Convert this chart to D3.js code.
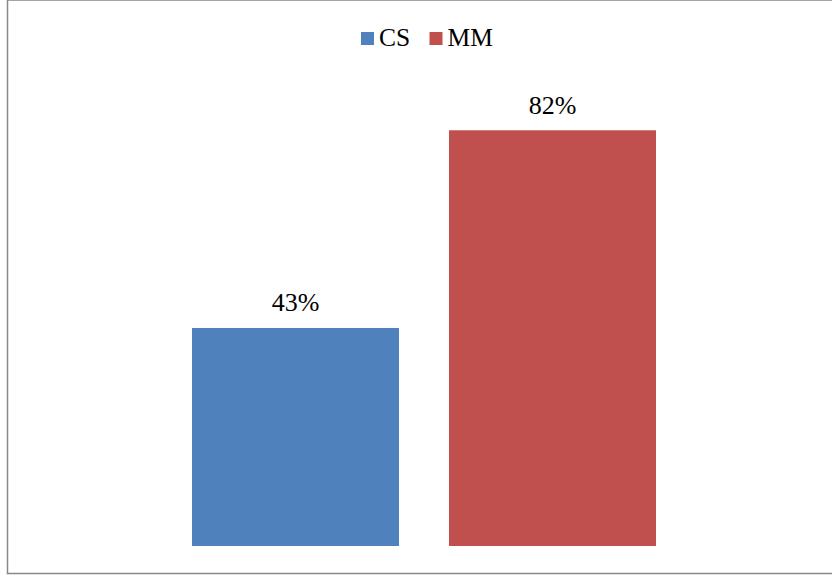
<!DOCTYPE html>
<html><head><meta charset="utf-8">
<script src="https://cdn.jsdelivr.net/npm/d3@7"></script>
<style>html,body{margin:0;padding:0;background:#fff;}svg{display:block;}</style>
</head><body>
<svg id="c" width="832" height="576"></svg>
<script>
const series = ["CS", "MM"];
const values = [0.43, 0.82];
const labels = ["43%", "82%"];
const colors = ["#4F81BD", "#C0504D"];

const svg = d3.select("#c");
const font = "'Liberation Serif','Times New Roman',serif";

svg.append("rect").attr("x", 7.5).attr("y", 0).attr("width", 830).attr("height", 573.5)
  .attr("fill", "#fff").attr("stroke", "#888").attr("stroke-width", 1.5);

const x = d3.scaleBand().domain(series).range([167, 681]).paddingInner(50/257).paddingOuter(25/257);
const y = d3.scaleLinear().domain([0, 1]).range([546, 39]);

const data = series.map((s, i) => ({s, v: values[i], l: labels[i], c: colors[i]}));

svg.selectAll("rect.bar").data(data).enter().append("rect").attr("class", "bar")
  .attr("x", d => x(d.s)).attr("width", x.bandwidth())
  .attr("y", d => y(d.v)).attr("height", d => y(0) - y(d.v))
  .attr("fill", d => d.c);

svg.selectAll("text.lbl").data(data).enter().append("text").attr("class", "lbl")
  .attr("x", d => x(d.s) + x.bandwidth()/2).attr("y", d => y(d.v) - 16.5)
  .attr("text-anchor", "middle").attr("font-family", font).attr("font-size", 26)
  .attr("fill", "#000").text(d => d.l);

// legend
const leg = [{s: "CS", x: 361}, {s: "MM", x: 429.5}];
leg.forEach((g, i) => {
  svg.append("rect").attr("x", g.x).attr("y", 32).attr("width", 13).attr("height", 13).attr("fill", colors[i]);
  svg.append("text").attr("x", g.x + 18).attr("y", 46).attr("font-family", font).attr("font-size", 25.5)
    .attr("fill", "#000").text(series[i]);
});
</script>
</body></html>
